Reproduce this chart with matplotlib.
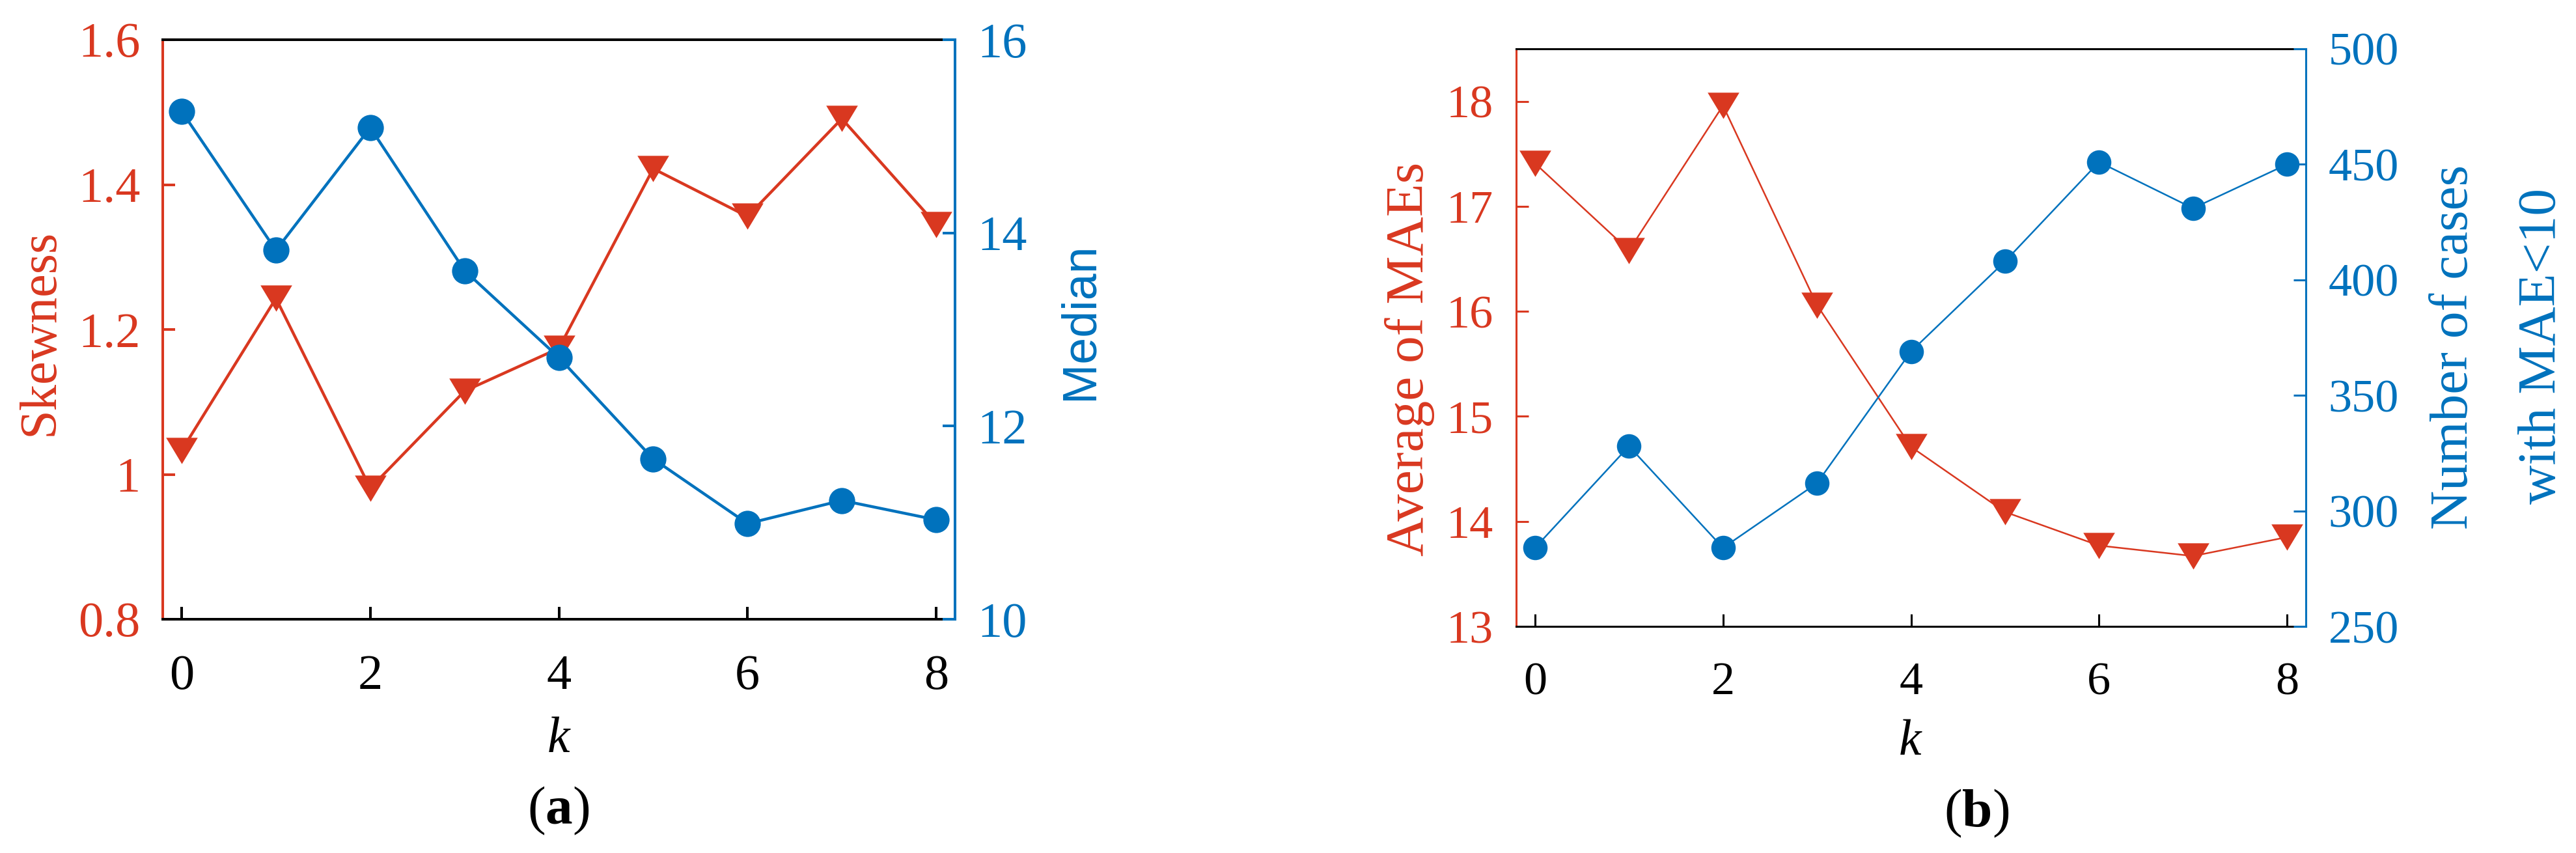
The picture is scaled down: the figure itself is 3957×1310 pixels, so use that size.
import numpy as np
import matplotlib
matplotlib.use('Agg')
import matplotlib.pyplot as plt

matplotlib.rcParams['font.family'] = 'Liberation Serif'
matplotlib.rcParams['mathtext.fontset'] = 'custom'
matplotlib.rcParams['mathtext.rm'] = 'Liberation Serif'
matplotlib.rcParams['mathtext.it'] = 'Liberation Serif:italic'
matplotlib.rcParams['mathtext.bf'] = 'Liberation Serif:bold'

# data
k = [0, 1, 2, 3, 4, 5, 6, 7, 8]
skewness = [1.033, 1.243, 0.981, 1.115, 1.174, 1.422, 1.356, 1.491, 1.345]
median = [15.26, 13.82, 15.09, 13.61, 12.71, 11.66, 10.99, 11.23, 11.03]
avg_mae = [17.41, 16.58, 17.96, 16.06, 14.71, 14.09, 13.77, 13.67, 13.85]
n_cases = [284, 328, 284, 312, 369, 408, 451, 431, 450]

xticks = [0, 2, 4, 6, 8]
skew_ticks = [0.8, 1.0, 1.2, 1.4, 1.6]
skew_labels = ['0.8', '1', '1.2', '1.4', '1.6']
median_ticks = [10, 12, 14, 16]
mae_ticks = [13, 14, 15, 16, 17, 18]
cases_ticks = [250, 300, 350, 400, 450, 500]

RED = '#D93820'
BLUE = '#0072BD'
W, H = 3957, 1310
tri = [(-1, 0.83), (1, 0.83), (0, -0.83)]


def px(x, y):
    return x / W, 1 - y / H


def setup(ax, axr, lw, fs, pad):
    for s in ['top', 'bottom']:
        ax.spines[s].set_color('black')
        ax.spines[s].set_linewidth(lw)
        axr.spines[s].set_visible(False)
    ax.spines['left'].set_color(RED)
    ax.spines['left'].set_linewidth(lw)
    ax.spines['right'].set_visible(False)
    axr.spines['left'].set_visible(False)
    axr.spines['right'].set_color(BLUE)
    axr.spines['right'].set_linewidth(lw)
    ax.tick_params(axis='x', direction='in', length=14, width=lw, top=False,
                   labelsize=fs, pad=pad + 14, colors='black')
    ax.tick_params(axis='y', direction='in', length=14, width=lw, right=False,
                   labelsize=fs, pad=pad, colors=RED)
    axr.tick_params(axis='y', direction='in', length=14, width=lw, left=False,
                    labelsize=fs, pad=pad, colors=BLUE)
    ax.set_xlim(-0.2, 8.2)
    ax.set_xticks(xticks)


fig = plt.figure(figsize=(W / 100, H / 100), dpi=100)

# (a)
ax1 = fig.add_axes([250 / W, 1 - 951 / H, 1217 / W, 890 / H])
ax1r = ax1.twinx()
ax1.plot(k, skewness, color=RED, lw=3.2, marker=tri, ms=35, mew=0)
ax1r.plot(k, median, color=BLUE, lw=3.2, marker='o', ms=29, mew=0)
ax1.set_ylim(0.8, 1.6)
ax1.set_yticks(skew_ticks)
ax1.set_yticklabels(skew_labels)
ax1r.set_ylim(10, 16)
ax1r.set_yticks(median_ticks)
setup(ax1, ax1r, 2.9, 55, 25)

fig.text(*px(62, 510), 'Skewness', rotation=90, ha='center', va='center',
         color=RED, fontsize=58)
fig.text(*px(1659, 493), 'Median', rotation=90, ha='center', va='center',
         color=BLUE, fontsize=53, family='Liberation Sans')
fig.text(*px(858, 1136), 'k', style='italic', ha='center', va='center', fontsize=56)
fig.text(*px(858, 1245), r'($\mathbf{a}$)', ha='center', va='center', fontsize=60)

# (b)
ax2 = fig.add_axes([2329 / W, 1 - 962 / H, 1213 / W, 887 / H])
ax2r = ax2.twinx()
ax2.plot(k, avg_mae, color=RED, lw=1.8, marker=tri, ms=35, mew=0)
ax2r.plot(k, n_cases, color=BLUE, lw=1.8, marker='o', ms=27, mew=0)
ax2.set_ylim(13, 18.5)
ax2.set_yticks(mae_ticks)
ax2r.set_ylim(250, 500)
ax2r.set_yticks(cases_ticks)
setup(ax2, ax2r, 2.2, 52, 25)

fig.text(*px(2165, 551), 'Average of MAEs', rotation=90, ha='center', va='center',
         color=RED, fontsize=60)
fig.text(*px(3770, 533), 'Number of cases', rotation=90, ha='center', va='center',
         color=BLUE, fontsize=60)
fig.text(*px(3905, 532), 'with MAE<10', rotation=90, ha='center', va='center',
         color=BLUE, fontsize=60)
fig.text(*px(2934, 1140), 'k', style='italic', ha='center', va='center', fontsize=56)
fig.text(*px(3036, 1249), r'($\mathbf{b}$)', ha='center', va='center', fontsize=60)

fig.savefig('out.png', dpi=100, facecolor='white')
